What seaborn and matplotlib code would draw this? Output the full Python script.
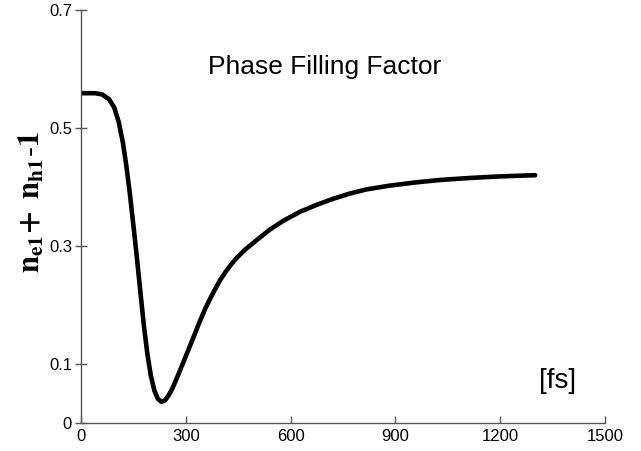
import matplotlib
matplotlib.use("Agg")
import matplotlib.pyplot as plt
import seaborn as sns
import pandas as pd

# ---- data ----
time_fs = [0, 40, 60, 80, 95, 108, 120, 130, 140, 150, 160, 170, 180, 190, 200,
           210, 220, 230, 240, 250, 262, 275, 293, 317, 340, 355, 369, 385, 398,
           415, 430, 446, 470, 503, 541, 580, 627, 680, 722, 770, 818, 880, 961,
           1030, 1104, 1200, 1300]
pff = [0.559, 0.559, 0.557, 0.549, 0.535, 0.510, 0.475, 0.435, 0.388, 0.335,
       0.280, 0.222, 0.165, 0.117, 0.080, 0.055, 0.041, 0.036, 0.038, 0.046,
       0.059, 0.077, 0.103, 0.138, 0.172, 0.193, 0.210, 0.228, 0.242, 0.257,
       0.269, 0.280, 0.294, 0.310, 0.328, 0.343, 0.358, 0.371, 0.380, 0.389,
       0.396, 0.402, 0.408, 0.412, 0.415, 0.418, 0.420]
x_ticks = [0, 300, 600, 900, 1200, 1500]
y_ticks = [0, 0.1, 0.3, 0.5, 0.7]
y_tick_labels = ["0", "0.1", "0.3", "0.5", "0.7"]
title_text = "Phase Filling Factor"
unit_text = "[fs]"
ylabel_text = r"$\mathbf{n_{e1}\!+\ n_{h1}\text{-}1}$"

df = pd.DataFrame({"t": time_fs, "v": pff})

sns.set_theme(style="ticks")
plt.rcParams["font.family"] = ["Liberation Sans", "DejaVu Sans"]
plt.rcParams["mathtext.fontset"] = "stix"
plt.rcParams["text.color"] = "black"
plt.rcParams["axes.labelcolor"] = "black"

fig = plt.figure(figsize=(6.41, 4.51), dpi=100)
ax = fig.add_axes([81 / 641, 28 / 451, 524 / 641, 413 / 451])

sns.lineplot(data=df, x="t", y="v", ax=ax, color="black", linewidth=3.3,
             sort=False, estimator=None)

ax.set_xlim(0, 1500)
ax.set_ylim(0, 0.7)
ax.set_xticks(x_ticks)
ax.set_xticklabels([str(t) for t in x_ticks])
ax.set_yticks(y_ticks)
ax.set_yticklabels(y_tick_labels)

for s in ["top", "right"]:
    ax.spines[s].set_visible(False)
for s in ["left", "bottom"]:
    ax.spines[s].set_color("#555555")
    ax.spines[s].set_linewidth(1.0)

ax.tick_params(axis="x", direction="in", length=5, width=1, color="#555555",
               labelsize=12, labelcolor="black", pad=4)
ax.tick_params(axis="y", direction="inout", length=9, width=1, color="#555555",
               labelsize=12, labelcolor="black", pad=2)

ax.set_xlabel("")
ax.set_ylabel(ylabel_text, fontsize=22, color="black")
ax.yaxis.set_label_coords(-0.066, 0.535)

ax.text(696, 0.603, title_text, ha="center", va="center", fontsize=19, color="black")
ax.text(1365, 0.071, unit_text, ha="center", va="center", fontsize=20, color="black")

fig.savefig("out.png", dpi=100)
